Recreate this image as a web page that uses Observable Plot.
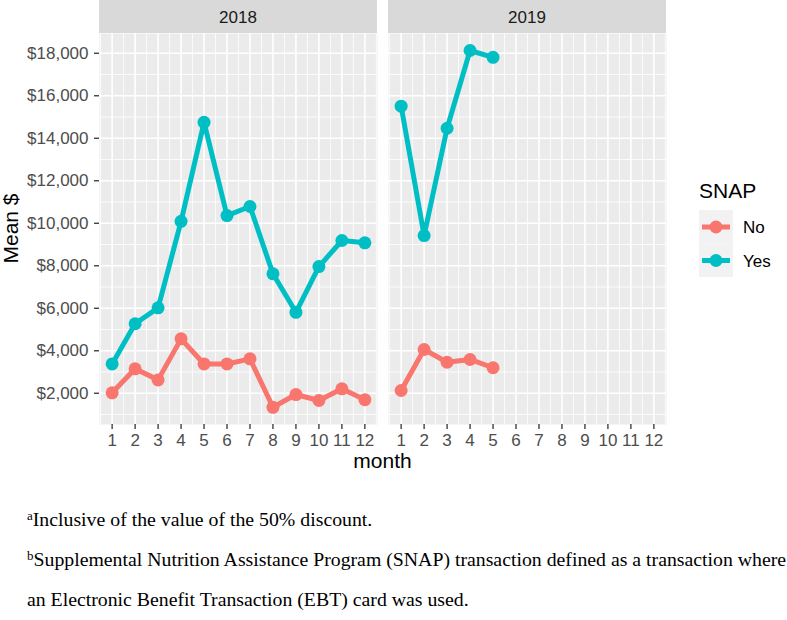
<!DOCTYPE html>
<html>
<head>
<meta charset="utf-8">
<script src="https://cdn.jsdelivr.net/npm/d3@7"></script>
<script src="https://cdn.jsdelivr.net/npm/@observablehq/plot@0.6"></script>
<style>
  body { margin: 0; background: #fff; }
  #chart svg { display: block; }
  #chart g[aria-label$="tick label"], #chart g[aria-label$="tick label"] text { font-size: 17px !important; font-family: "Liberation Sans", Arial, Helvetica, sans-serif !important; }
  .notes { font-family: "Liberation Serif", "Times New Roman", serif; font-size: 19.8px; line-height: 40px; color: #000; padding-left: 27px; white-space: nowrap; margin-top: 19px; }
  .notes sup { font-size: 13px; vertical-align: 6px; line-height: 0; }
</style>
</head>
<body>
<div id="chart"></div>
<div class="notes">
  <div><sup>a</sup>Inclusive of the value of the 50% discount.</div>
  <div><sup>b</sup>Supplemental Nutrition Assistance Program (SNAP) transaction defined as a transaction where</div>
  <div>an Electronic Benefit Transaction (EBT) card was used.</div>
</div>
<script>
// ---- data ----
const years = [2018, 2019];
const months2018 = [1, 2, 3, 4, 5, 6, 7, 8, 9, 10, 11, 12];
const yes2018 = [3380, 5270, 6020, 10090, 14750, 10360, 10790, 7620, 5810, 7960, 9190, 9080];
const no2018  = [2020, 3150, 2630, 4560, 3380, 3380, 3620, 1340, 1940, 1660, 2210, 1700];
const months2019 = [1, 2, 3, 4, 5];
const yes2019 = [15510, 9420, 14470, 18130, 17810];
const no2019  = [2130, 4060, 3460, 3590, 3200];
const snapGroups = ["No", "Yes"];
const snapColors = ["#F8766D", "#00BFC4"];
const monthTicks = [1, 2, 3, 4, 5, 6, 7, 8, 9, 10, 11, 12];
const monthMinor = [0.5, 1.5, 2.5, 3.5, 4.5, 5.5, 6.5, 7.5, 8.5, 9.5, 10.5, 11.5, 12.5];
const yTicks = [2000, 4000, 6000, 8000, 10000, 12000, 14000, 16000, 18000];
const yMinor = [1000, 3000, 5000, 7000, 9000, 11000, 13000, 15000, 17000];

const rows = [];
function addSeries(year, ms, vals, snap) {
  ms.forEach((m, i) => rows.push({year, month: m, mean: vals[i], snap}));
}
addSeries(2018, months2018, no2018, "No");
addSeries(2018, months2018, yes2018, "Yes");
addSeries(2019, months2019, no2019, "No");
addSeries(2019, months2019, yes2019, "Yes");

const FONT = '"Liberation Sans", Arial, Helvetica, sans-serif';
const W = 787, H = 480, mL = 98, mR = 120, mT = 33, mB = 56;
const TICK_FS = 17, TITLE_FS = 21;

const plot = Plot.plot({
  width: W, height: H,
  marginLeft: mL, marginRight: mR, marginTop: mT, marginBottom: mB,
  style: {fontFamily: FONT, fontSize: TICK_FS + "px", background: "white"},
  fx: {domain: years, paddingInner: 0.037, paddingOuter: 0, axis: null},
  x: {domain: [0.45, 12.55]},
  y: {domain: [530, 18930]},
  color: {domain: snapGroups, range: snapColors},
  marks: [
    Plot.frame({fill: "#EBEBEB", stroke: "none"}),
    Plot.ruleY(yMinor, {stroke: "white", strokeWidth: 0.8}),
    Plot.ruleX(monthMinor, {stroke: "white", strokeWidth: 0.8}),
    Plot.ruleY(yTicks, {stroke: "white", strokeWidth: 1.6}),
    Plot.ruleX(monthTicks, {stroke: "white", strokeWidth: 1.6}),
    Plot.line(rows, {fx: "year", x: "month", y: "mean", stroke: "snap", z: "snap", strokeWidth: 5}),
    Plot.dot(rows, {fx: "year", x: "month", y: "mean", fill: "snap", r: 6.5, stroke: "none"}),
    Plot.axisX({ticks: monthTicks, tickSize: 5, tickPadding: 4, tickFormat: d => String(d), label: null,
                stroke: "#333333", strokeWidth: 1.3, fill: "#4D4D4D", fontSize: TICK_FS}),
    Plot.axisY({ticks: yTicks, tickSize: 5, tickPadding: 6, tickFormat: d3.format("$,"), label: null,
                stroke: "#333333", strokeWidth: 1.3, fill: "#4D4D4D", fontSize: TICK_FS})
  ]
});

document.getElementById("chart").appendChild(plot);

// ---- ggplot-style decorations using Plot's own scales ----
const svg = d3.select(plot.tagName.toLowerCase() === "svg" ? plot : plot.querySelector("svg"));
const fx = plot.scale("fx");
const color = plot.scale("color");
const bw = fx.bandwidth;

years.forEach(yr => {
  const x0 = fx.apply(yr);
  svg.append("rect").attr("x", x0).attr("y", 0).attr("width", bw).attr("height", mT).attr("fill", "#D9D9D9");
  svg.append("text").attr("x", x0 + bw / 2).attr("y", 23).attr("text-anchor", "middle")
    .attr("fill", "#1A1A1A").style("font-size", TICK_FS + "px").style("font-family", FONT).text(yr);
});

// axis titles
const xr = fx.range;
svg.append("text").attr("x", (xr[0] + xr[1]) / 2).attr("y", 468).attr("text-anchor", "middle")
  .attr("fill", "#000").style("font-size", TITLE_FS + "px").style("font-family", FONT).text("month");
svg.append("text").attr("transform", `translate(18,${(mT + H - mB) / 2}) rotate(-90)`).attr("text-anchor", "middle")
  .attr("fill", "#000").style("font-size", TITLE_FS + "px").style("font-family", FONT).text("Mean $");

// legend
const lg = svg.append("g").attr("transform", "translate(699,0)");
lg.append("text").attr("x", 0).attr("y", 198).attr("fill", "#000").attr("text-anchor", "start")
  .style("font-size", TITLE_FS + "px").style("font-family", FONT).text("SNAP");
snapGroups.forEach((g, i) => {
  const top = 210 + i * 33.5;
  lg.append("rect").attr("x", 0).attr("y", top).attr("width", 34).attr("height", 33.5).attr("fill", "#F2F2F2");
  const cy = top + 17;
  lg.append("line").attr("x1", 3).attr("x2", 31).attr("y1", cy).attr("y2", cy)
    .attr("stroke", color.apply(g)).attr("stroke-width", 5);
  lg.append("circle").attr("cx", 17).attr("cy", cy).attr("r", 6.5).attr("fill", color.apply(g));
  lg.append("text").attr("x", 44).attr("y", cy + 6).attr("fill", "#000").attr("text-anchor", "start")
    .style("font-size", TICK_FS + "px").style("font-family", FONT).text(g);
});
</script>
</body>
</html>
